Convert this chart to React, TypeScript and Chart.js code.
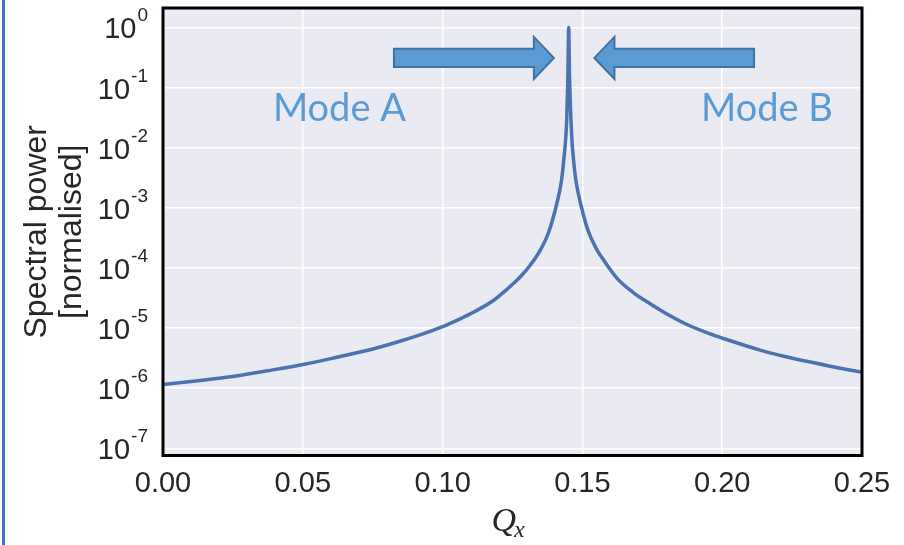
import React, { useEffect, useRef } from "react";
import { Chart, registerables } from "chart.js";

Chart.register(...registerables);

// ---- data ----
const qValues = [
  0, 0.0125, 0.0255, 0.0375, 0.0505, 0.06, 0.0767, 0.085, 0.0945, 0.1005, 0.107,
  0.1112, 0.1183, 0.1225, 0.1255, 0.1279, 0.1314, 0.135, 0.138, 0.1409, 0.1425, 0.1433,
  0.1444, 0.1448, 0.1451, 0.1454, 0.1461, 0.1471, 0.1478, 0.1493, 0.152, 0.1552,
  0.1564, 0.1624, 0.1682, 0.172, 0.179, 0.187, 0.1957, 0.2005, 0.2136, 0.222,
  0.2302, 0.24, 0.25,
];
const powerValues = [
  1.15e-6, 1.33e-6, 1.58e-6, 1.95e-6, 2.5e-6, 3.1e-6, 4.7e-6, 6.1e-6, 8.5e-6, 1.08e-5,
  1.48e-5, 1.85e-5, 2.9e-5, 4.2e-5, 5.6e-5, 7.2e-5, 1.12e-4, 2.0e-4, 4.0e-4, 1.2e-3, 2.8e-3,
  6e-3, 0.03, 0.15, 1.0, 0.15, 0.018, 4.7e-3, 2.6e-3, 1.2e-3, 4.2e-4, 2.0e-4, 1.63e-4,
  6.7e-5, 3.9e-5, 2.95e-5, 1.85e-5, 1.17e-5, 8.0e-6, 6.7e-6, 4.3e-6, 3.4e-6, 2.8e-6,
  2.25e-6, 1.85e-6,
];
const xTickValues = [0, 0.05, 0.1, 0.15, 0.2, 0.25];
const xTickLabels = ["0.00", "0.05", "0.10", "0.15", "0.20", "0.25"];
const yTickExponents = [0, -1, -2, -3, -4, -5, -6, -7];
const yTitleLines = ["Spectral power", "[normalised]"];
const modeLabels = ["Mode A", "Mode B"];
const modeLabelQ = [0.0393, 0.1924];
const modeLabelPower = 0.0278;
const arrowTailQ = [0.0826, 0.2114];
const arrowTipQ = [0.1398, 0.1543];
const arrowPower = 0.311;

const SANS = '"Liberation Sans", Arial, sans-serif';
const TEXT = "#262626";

const overlayPlugin = {
  id: "overlay",
  beforeDraw(chart: any) {
    const { ctx, chartArea } = chart;
    ctx.save();
    ctx.fillStyle = "#EAEAF2";
    ctx.fillRect(chartArea.left, chartArea.top, chartArea.right - chartArea.left, chartArea.bottom - chartArea.top);
    ctx.restore();
  },
  afterDraw(chart: any) {
    const { ctx, chartArea, scales } = chart;
    const xs = scales.x;
    const ys = scales.y;
    ctx.save();

    // arrows
    const shaftH = 9.2;
    const headH = 21;
    const headL = 20;
    arrowTailQ.forEach((tq, i) => {
      const x0 = xs.getPixelForValue(tq);
      const x1 = xs.getPixelForValue(arrowTipQ[i]);
      const cy = ys.getPixelForValue(arrowPower);
      const dir = Math.sign(x1 - x0);
      const base = x1 - dir * headL;
      ctx.beginPath();
      ctx.moveTo(x0, cy - shaftH);
      ctx.lineTo(base, cy - shaftH);
      ctx.lineTo(base, cy - headH);
      ctx.lineTo(x1, cy);
      ctx.lineTo(base, cy + headH);
      ctx.lineTo(base, cy + shaftH);
      ctx.lineTo(x0, cy + shaftH);
      ctx.closePath();
      ctx.fillStyle = "#5B9BD5";
      ctx.fill();
      ctx.lineWidth = 2;
      ctx.strokeStyle = "#41719C";
      ctx.stroke();
    });

    // mode labels
    ctx.fillStyle = "#5B9BD5";
    ctx.font = '38px Lato, "Open Sans", sans-serif';
    ctx.textAlign = "left";
    ctx.textBaseline = "alphabetic";
    modeLabels.forEach((t, i) => {
      ctx.fillText(t, xs.getPixelForValue(modeLabelQ[i]), ys.getPixelForValue(modeLabelPower));
    });

    // frame
    ctx.strokeStyle = "#000";
    ctx.lineWidth = 3;
    ctx.strokeRect(chartArea.left, chartArea.top, chartArea.right - chartArea.left, chartArea.bottom - chartArea.top);

    // x tick labels
    ctx.fillStyle = TEXT;
    ctx.font = `29px ${SANS}`;
    ctx.textAlign = "center";
    xTickValues.forEach((v, i) => {
      ctx.fillText(xTickLabels[i], xs.getPixelForValue(v), chartArea.bottom + 36.5);
    });

    // y tick labels with superscripts
    ctx.textAlign = "right";
    const right = chartArea.left - 15;
    yTickExponents.forEach((e) => {
      const py = ys.getPixelForValue(Math.pow(10, e));
      const sup = String(e);
      ctx.font = `19px ${SANS}`;
      ctx.fillText(sup, right, py - 6);
      const ws = ctx.measureText(sup).width;
      ctx.font = `29px ${SANS}`;
      ctx.fillText("10", right - ws - 1, py + 11);
    });

    // y title
    ctx.save();
    const cy = (chartArea.top + chartArea.bottom) / 2;
    ctx.font = `32px ${SANS}`;
    ctx.textAlign = "center";
    ctx.textBaseline = "middle";
    [37, 72].forEach((cx, i) => {
      ctx.save();
      ctx.translate(cx, cy);
      ctx.rotate(-Math.PI / 2);
      ctx.fillText(yTitleLines[i], 0, 0);
      ctx.restore();
    });
    ctx.restore();

    // x title Q_x
    ctx.textAlign = "left";
    ctx.textBaseline = "alphabetic";
    ctx.font = 'italic 34px "Liberation Serif", "DejaVu Serif", serif';
    const qx = xs.getPixelForValue(0.1175);
    ctx.fillText("Q", qx, 531);
    const qw = ctx.measureText("Q").width;
    ctx.font = 'italic 24px "Liberation Serif", "DejaVu Serif", serif';
    ctx.fillText("x", qx + qw - 2, 537);

    ctx.restore();
  },
};

export default function App() {
  const ref = useRef<HTMLCanvasElement>(null);
  useEffect(() => {
    if (!ref.current) return;
    const chart = new Chart(ref.current, {
      type: "line",
      data: {
        datasets: [
          {
            data: qValues.map((q, i) => ({ x: q, y: powerValues[i] })),
            borderColor: "#4C72B0",
            borderWidth: 3.5,
            pointRadius: 0,
            fill: false,
            cubicInterpolationMode: "monotone",
          },
        ],
      },
      options: {
        animation: false,
        responsive: true,
        maintainAspectRatio: false,
        layout: { padding: { left: 163, right: 42, top: 8, bottom: 89.5 } },
        plugins: { legend: { display: false }, tooltip: { enabled: false } },
        scales: {
          x: {
            type: "linear",
            min: 0,
            max: 0.25,
            afterBuildTicks: (s: any) => {
              s.ticks = xTickValues.map((v) => ({ value: v }));
            },
            ticks: { display: false },
            grid: { color: "#FFFFFF", lineWidth: 1.5, drawTicks: false },
            border: { display: false },
          },
          y: {
            type: "logarithmic",
            min: 7.6e-8,
            max: 2.1,
            afterBuildTicks: (s: any) => {
              s.ticks = yTickExponents.map((e) => ({ value: Math.pow(10, e) }));
            },
            ticks: { display: false },
            grid: { color: "#FFFFFF", lineWidth: 1.5, drawTicks: false },
            border: { display: false },
          },
        },
      },
      plugins: [overlayPlugin],
    } as any);
    return () => chart.destroy();
  }, []);
  return (
    <div style={{ position: "fixed", left: 0, top: 0, width: 904, height: 545, background: "#fff" }}>
      <div style={{ position: "absolute", left: 2, top: 0, width: 3, height: 545, background: "#4472C4" }} />
      <canvas ref={ref} />
    </div>
  );
}
